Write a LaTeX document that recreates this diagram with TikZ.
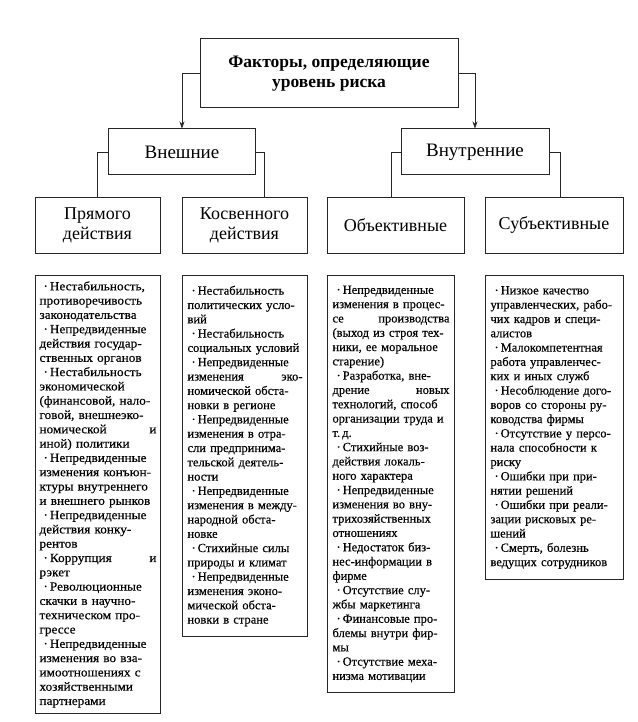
\documentclass[tikz,border=0pt]{standalone}
\usepackage{fontspec}
\setmainfont{Liberation Serif}
\newfontfamily\listfont{Liberation Serif}[FakeBold=0.4]
\newfontfamily\widelistfont{Liberation Serif}[FakeBold=0.4, FakeStretch=1.06]
\usetikzlibrary{arrows.meta, positioning}

\newcommand{\idot}{\hspace*{4pt}·\hspace{2pt}}

\begin{document}
\begin{tikzpicture}[
    x=1pt, y=-1pt,
    titlebox/.style={rectangle, draw=black!85, line width=1pt, minimum width=258pt, minimum height=69pt, inner sep=2pt, align=center, font=\fontsize{17.5}{20}\selectfont\bfseries},
    groupbox/.style={rectangle, draw=black!85, line width=1pt, minimum height=46pt, inner sep=2pt, font=\fontsize{19}{22}\selectfont},
    kindbox/.style={rectangle, draw=black!85, line width=1pt, minimum height=56pt, inner sep=2pt, align=center, font=\fontsize{18}{20}\selectfont},
    listbox/.style={rectangle, draw=black!85, line width=1pt, anchor=north west, inner xsep=5pt, inner ysep=0pt, align=left, font=\listfont\fontsize{12.5}{14.3}\selectfont},
    arrow/.style={-{Stealth[length=7pt, width=5pt]}, line width=0.8pt, draw=black!85},
    link/.style={line width=0.8pt, draw=black!85}
]
\useasboundingbox (0,0) rectangle (637,722);

% заголовок
\node[titlebox] (title) at (329,73.5) {Факторы, определяющие\\уровень риска};

% внешние и внутренние
\node[groupbox, minimum width=147pt] (ext) at (182,152) {Внешние};
\node[groupbox, minimum width=148pt] (int) at (475,152) {Внутренние};

% виды факторов
\node[kindbox, minimum width=125pt] (direct) at (97.5,225) {Прямого\\действия};
\node[kindbox, minimum width=125pt] (indirect) at (244.5,225) {Косвенного\\действия};
\node[kindbox, minimum width=137pt] (objective) at (395.5,225) {Объективные};
\node[kindbox, minimum width=138pt] (subjective) at (554,225) {Субъективные};

% списки
\node[listbox, inner xsep=4pt, text width=117pt, minimum height=438pt, font=\widelistfont\fontsize{12.5}{14.3}\selectfont] (direct-list) at (35,275) {%
\idot Нестабильность,\\
противоречивость\\
законодательства\\
\idot Непредвиденные\\
действия государ-\\
ственных органов\\
\idot Нестабильность\\
экономической\\
(финансовой, нало-\\
говой, внешнеэко-\\
номической \hfill и\\
иной) политики\\
\idot Непредвиденные\\
изменения конъюн-\\
ктуры внутреннего\\
и внешнего рынков\\
\idot Непредвиденные\\
действия конку-\\
рентов\\
\idot Коррупция \hfill и\\
рэкет\\
\idot Революционные\\
скачки в научно-\\
техническом про-\\
грессе\\
\idot Непредвиденные\\
изменения во вза-\\
имоотношениях с\\
хозяйственными\\
партнерами};

\node[listbox, text width=115pt, minimum height=361pt] (indirect-list) at (182,275) {%
\idot Нестабильность\\
политических усло-\\
вий\\
\idot Нестабильность\\
социальных условий\\
\idot Непредвиденные\\
изменения \hfill эко-\\
номической обста-\\
новки в регионе\\
\idot Непредвиденные\\
изменения в отра-\\
сли предпринима-\\
тельской деятель-\\
ности\\
\idot Непредвиденные\\
изменения в между-\\
народной обста-\\
новке\\
\idot Стихийные силы\\
природы и климат\\
\idot Непредвиденные\\
изменения эконо-\\
мической обста-\\
новки в стране};

\node[listbox, text width=117pt, minimum height=417pt] (objective-list) at (327,275) {%
\idot Непредвиденные\\
изменения в процес-\\
се \hfill производства\\
(выход из строя тех-\\
ники, ее моральное\\
старение)\\
\idot Разработка, вне-\\
дрение \hfill новых\\
технологий, способ\\
организации труда и\\
т.\,д.\\
\idot Стихийные воз-\\
действия локаль-\\
ного характера\\
\idot Непредвиденные\\
изменения во вну-\\
трихозяйственных\\
отношениях\\
\idot Недостаток биз-\\
нес-информации в\\
фирме\\
\idot Отсутствие слу-\\
жбы маркетинга\\
\idot Финансовые про-\\
блемы внутри фир-\\
мы\\
\idot Отсутствие меха-\\
низма мотивации};

\node[listbox, text width=128pt, minimum height=304pt] (subjective-list) at (485,275) {%
\idot Низкое качество\\
управленческих, рабо-\\
чих кадров и специ-\\
алистов\\
\idot Малокомпетентная\\
работа управленчес-\\
ких и иных служб\\
\idot Несоблюдение дого-\\
воров со стороны ру-\\
ководства фирмы\\
\idot Отсутствие у персо-\\
нала способности к\\
риску\\
\idot Ошибки при при-\\
нятии решений\\
\idot Ошибки при реали-\\
зации рисковых ре-\\
шений\\
\idot Смерть, болезнь\\
ведущих сотрудников};

% соединительные линии
\draw[arrow] (title.west) -| (ext.north);
\draw[arrow] (title.east) -| (int.north);
\draw[link] (ext.west) -| (direct.north);
\draw[link] (ext.east) -| ([xshift=20pt]indirect.north);
\draw[link] (int.west) -| ([xshift=-4pt]objective.north);
\draw[link] (int.east) -| ([xshift=6pt]subjective.north);
\end{tikzpicture}
\end{document}
